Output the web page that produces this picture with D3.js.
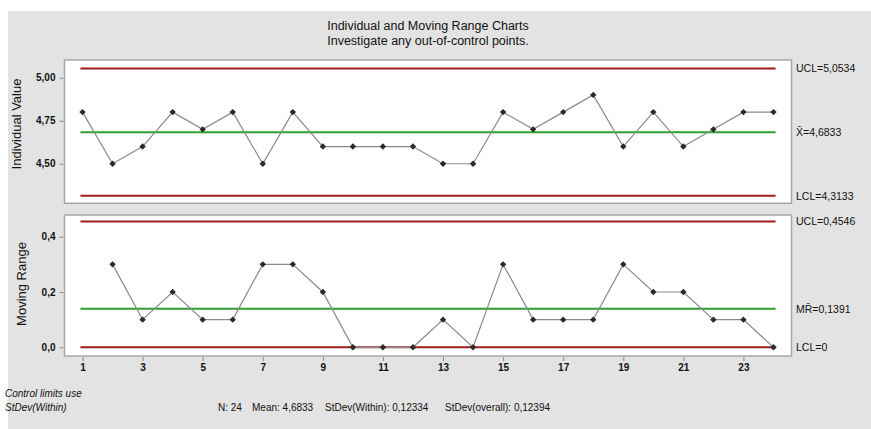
<!DOCTYPE html>
<html lang="en">
<head>
    <meta charset="UTF-8">
    <script src="https://d3js.org/d3.v7.min.js"></script>
    <title>I-MR Chart</title>
    <style>
        body { margin: 0; background: #fff; }
        text { font-family: "Liberation Sans", Arial, sans-serif; fill: #111; }
    </style>
</head>
<body>
<div id="chart"></div>
<script>
// Observations (individual values)
const observations = [4.8, 4.5, 4.6, 4.8, 4.7, 4.8, 4.5, 4.8, 4.6, 4.6, 4.6, 4.6,
                      4.5, 4.5, 4.8, 4.7, 4.8, 4.9, 4.6, 4.8, 4.6, 4.7, 4.8, 4.8];
const xTicks = [1, 3, 5, 7, 9, 11, 13, 15, 17, 19, 21, 23];
const iTicks = [4.50, 4.75, 5.00];
const mrTicks = [0.0, 0.2, 0.4];
const iLimits = [
    { name: "UCL=5,0534", value: 5.0534, kind: "limit" },
    { name: "X̄=4,6833", value: 4.6833, kind: "center" },
    { name: "LCL=4,3133", value: 4.3133, kind: "limit" }
];
const mrLimits = [
    { name: "UCL=0,4546", value: 0.4546, kind: "limit" },
    { name: "MR̄=0,1391", value: 0.1391, kind: "center" },
    { name: "LCL=0", value: 0, kind: "limit" }
];
const titleLines = ["Individual and Moving Range Charts", "Investigate any out-of-control points."];
const footLeft = ["Control limits use", "StDev(Within)"];
const footStats = ["N: 24", "Mean: 4,6833", "StDev(Within): 0,12334", "StDev(overall): 0,12394"];
const footStatsX = [218, 252, 325, 445];

const W = 871, H = 429;
const fmt2 = v => d3.format(".2f")(v).replace(".", ",");
const fmt1 = v => d3.format(".1f")(v).replace(".", ",");

const iData = observations.map((v, i) => ({ x: i + 1, v }));
const mrData = observations.slice(1).map((v, i) => ({ x: i + 2, v: Math.abs(v - observations[i]) }));

const svg = d3.select("#chart").append("svg")
    .attr("width", W).attr("height", H);

// gray graph window
svg.append("rect").attr("x", 8).attr("y", 11).attr("width", W - 8).attr("height", H - 11)
    .attr("fill", "#e3e3e3");

svg.selectAll(".title").data(titleLines).enter().append("text")
    .attr("x", 428).attr("y", (d, i) => 30 + i * 15)
    .attr("text-anchor", "middle").style("font-size", "12.5px")
    .text(d => d);

const x = d3.scaleLinear().domain([0.4, 24.6]).range([64.5, 791.5]);

function panel(top, bottom, domain, ticks, tickFmt, data, limits, yTitle, showX) {
    const y = d3.scaleLinear().domain(domain).range([bottom, top]);
    const g = svg.append("g");

    g.append("rect").attr("x", x.range()[0]).attr("y", top)
        .attr("width", x.range()[1] - x.range()[0]).attr("height", bottom - top)
        .attr("fill", "#fff").attr("stroke", "#a8a8a8").attr("stroke-width", 1.5);

    const yAxis = g.append("g").attr("transform", `translate(${x.range()[0] - 1},0)`)
        .call(d3.axisLeft(y).tickValues(ticks).tickFormat(tickFmt).tickSize(4).tickPadding(4));
    yAxis.select(".domain").remove();
    yAxis.selectAll("line").attr("stroke", "#888");
    yAxis.selectAll("text").style("font-size", "10px").style("font-weight", "bold")
        .style("font-family", "Liberation Sans, Arial, sans-serif");

    if (showX) {
        const xAxis = g.append("g").attr("transform", `translate(0,${bottom + 1})`)
            .call(d3.axisBottom(x).tickValues(xTicks).tickFormat(d3.format("d")).tickSize(4).tickPadding(3));
        xAxis.select(".domain").remove();
        xAxis.selectAll("line").attr("stroke", "#888");
        xAxis.selectAll("text").style("font-size", "10px").style("font-weight", "bold")
            .style("font-family", "Liberation Sans, Arial, sans-serif");
    }

    g.append("text")
        .attr("transform", `translate(${yTitle.x},${yTitle.y}) rotate(-90)`)
        .attr("text-anchor", "middle").style("font-size", "13px")
        .text(yTitle.text);

    g.selectAll(".ctl").data(limits).enter().append("line")
        .attr("x1", x(0.93)).attr("x2", x(24.07))
        .attr("y1", d => y(d.value)).attr("y2", d => y(d.value))
        .attr("stroke", d => d.kind === "center" ? "#2ca02c" : "#a11d1d")
        .attr("stroke-width", 2);

    g.selectAll(".lim").data(limits).enter().append("text")
        .attr("x", 796).attr("y", d => y(d.value)).attr("dy", "0.35em")
        .style("font-size", "10.5px").text(d => d.name);

    const line = d3.line().x(d => x(d.x)).y(d => y(d.v));
    g.append("path").datum(data).attr("d", line)
        .attr("fill", "none").attr("stroke", "#8a8a8a").attr("stroke-width", 1.2);

    g.selectAll(".pt").data(data).enter().append("path")
        .attr("d", d3.symbol(d3.symbolDiamond2, 26))
        .attr("transform", d => `translate(${x(d.x)},${y(d.v)})`)
        .attr("fill", "#2a2a2a");
}

panel(60, 203.3, [4.27, 5.103], iTicks, fmt2, iData, iLimits,
    { x: 21, y: 124, text: "Individual Value" }, false);
panel(215, 356, [-0.0315, 0.4785], mrTicks, fmt1, mrData, mrLimits,
    { x: 26, y: 284, text: "Moving Range" }, true);

svg.selectAll(".foot").data(footLeft).enter().append("text")
    .attr("x", 5).attr("y", (d, i) => 397 + i * 14)
    .style("font-size", "10px").style("font-style", "italic").text(d => d);

svg.selectAll(".stat").data(footStats).enter().append("text")
    .attr("x", (d, i) => footStatsX[i]).attr("y", 411)
    .style("font-size", "10px").text(d => d);
</script>
</body>
</html>
